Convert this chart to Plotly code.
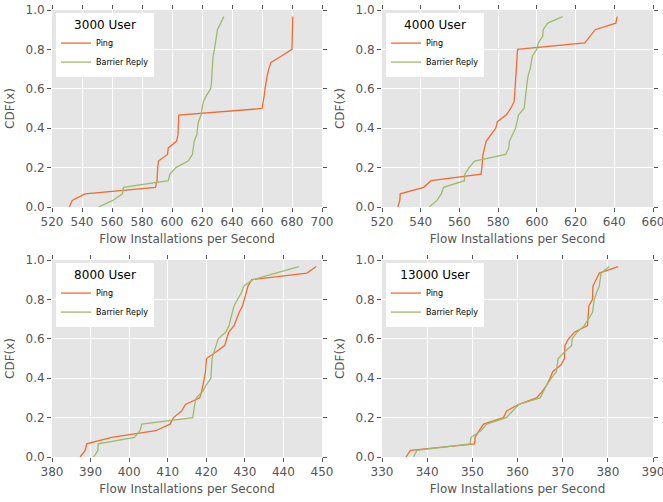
import plotly.graph_objects as go

N = 30
cdf_y = [i / N for i in range(N)]

ping_3000 = [531.5, 533.5, 542, 589, 590, 590, 590.5, 591, 597, 597.5,
             603, 604, 604, 604.3, 604.5, 660, 661, 661.5, 662, 662.5,
             663.5, 664.5, 666, 673, 680, 680.1, 680.2, 680.3, 680.4, 680.5]
barrier_3000 = [551, 560.5, 567, 567.6, 597.5, 598.6, 602.6, 610.8, 613.6, 614.3,
                614.8, 616.5, 617.2, 617.6, 619.4, 620.2, 620.8, 623, 625.8, 626.3,
                626.6, 627, 627.2, 627.4, 628.3, 629.1, 629.8, 630.3, 632.5, 634.5]

ping_4000 = [528.2, 529.2, 529.4, 541.5, 545.4, 571.2, 571.6, 572, 572.2, 573,
             573.8, 576.2, 578.8, 579.6, 584.1, 586.5, 588.2, 588.5, 588.8, 589,
             589.2, 589.4, 589.6, 589.8, 590, 624.8, 627.5, 630.1, 640.8, 641.5]
barrier_4000 = [544.4, 548.4, 550.6, 551.8, 562.6, 562.8, 565, 567.8, 583.9, 585.5,
                585.8, 587.5, 589, 589.8, 590.5, 593.4, 593.7, 594.2, 594.6, 595,
                595.5, 596.5, 597, 597.7, 599.9, 600.8, 603, 603.3, 605.6, 613.3]

ping_8000 = [387.3, 388.6, 389, 395.5, 406.9, 410.6, 411.5, 413.6, 414.6, 418.3,
             418.8, 419.2, 419.5, 419.8, 420, 420.05, 422.5, 424.8, 425.3, 425.8,
             427.2, 427.8, 428.5, 429.4, 429.8, 430.3, 430.8, 431.8, 446.1, 448.5]
barrier_8000 = [390.8, 391.9, 392, 401.4, 402.8, 403.3, 416.5, 416.7, 417, 417.4,
                419.1, 420, 421.2, 421.3, 421.4, 421.5, 422, 422.6, 423.1, 425,
                425.9, 426.3, 426.7, 427.2, 428.1, 429.1, 429.7, 432.1, 438, 444]

ping_13000 = [335.3, 336.3, 350.5, 350.6, 351.5, 352.5, 356.9, 357.6, 360.2, 364.2,
              365.5, 366.5, 367.2, 367.8, 369.6, 370.4, 370.45, 370.5, 371.3, 372.6,
              375.5, 375.6, 375.7, 375.8, 376.6, 376.6, 376.7, 377.4, 378.1, 382.3]
barrier_13000 = [337, 337.7, 349.5, 349.7, 351.9, 353.2, 357.5, 358.9, 360.3, 365,
                 365.8, 366.5, 367.5, 368.6, 368.8, 369, 370.4, 372, 372.1, 373.2,
                 374.8, 375.8, 376.6, 376.8, 377, 377.5, 378.1, 378.3, 378.5, 380.3]

panel_titles = ["3000 User", "4000 User", "8000 User", "13000 User"]
panel_ping = [ping_3000, ping_4000, ping_8000, ping_13000]
panel_barrier = [barrier_3000, barrier_4000, barrier_8000, barrier_13000]
x_ranges = [[520, 700], [520, 660], [380, 450], [330, 390]]
x_dticks = [20, 20, 10, 10]
y_ticks = [0.0, 0.2, 0.4, 0.6, 0.8, 1.0]

ORANGE = "#F26B30"
GREEN = "#9DBB6E"
TICKC = "#555555"
FONT = "DejaVu Sans"

W, H = 663, 502
# page-pixel boxes for each panel (x0, x1, y0, y1)
boxes = [(52, 322, 10, 207), (382, 653, 10, 207),
         (52, 322, 260, 457), (382, 653, 260, 457)]
L = boxes[0][0]
R = W - boxes[1][1]
T = boxes[0][2]
B = H - boxes[2][3]
pw = W - L - R
ph = H - T - B

def xd(px0, px1):
    return [(px0 - L) / pw, (px1 - L) / pw]

def yd(py0, py1):
    return [(H - B - py1) / ph, (H - B - py0) / ph]

fig = go.Figure()
for k in range(4):
    ax = "" if k == 0 else str(k + 1)
    lg = "legend" if k == 0 else "legend" + str(k + 1)
    fig.add_trace(go.Scatter(x=panel_ping[k], y=cdf_y, mode="lines", name="Ping",
                             line=dict(color=ORANGE, width=1.3),
                             xaxis="x" + ax, yaxis="y" + ax, legend=lg))
    fig.add_trace(go.Scatter(x=panel_barrier[k], y=cdf_y, mode="lines", name="Barrier Reply",
                             line=dict(color=GREEN, width=1.3),
                             xaxis="x" + ax, yaxis="y" + ax, legend=lg))
    px0, px1, py0, py1 = boxes[k]
    axis_common = dict(showgrid=True, gridcolor="white", gridwidth=1, zeroline=False,
                       ticks="outside", ticklen=4, tickcolor=TICKC, mirror="allticks",
                       showline=False, automargin=False, ticklabeloverflow="allow",
                       tickfont=dict(family=FONT, size=12, color=TICKC))
    fig.update_layout(**{
        "xaxis" + ax: dict(domain=xd(px0, px1), range=x_ranges[k], dtick=x_dticks[k],
                           anchor="y" + ax,
                           title=dict(text="Flow Installations per Second",
                                      font=dict(family=FONT, size=12, color=TICKC), standoff=6),
                           **axis_common),
        "yaxis" + ax: dict(domain=yd(py0, py1), range=[0, 1], tickvals=y_ticks,
                           ticktext=["%.1f" % v for v in y_ticks], anchor="x" + ax,
                           title=dict(text="CDF(x)", font=dict(family=FONT, size=12, color=TICKC), standoff=8),
                           **axis_common),
        lg: dict(x=(px0 + 4 - L) / pw, y=(H - B - (py0 + 3)) / ph, xanchor="left", yanchor="top",
                 bgcolor="white", borderwidth=0,
                 title=dict(text=panel_titles[k], side="top center",
                            font=dict(family=FONT, size=12, color="black")),
                 font=dict(family=FONT, size=8, color="black"),
                 tracegroupgap=0, itemwidth=30),
    })

fig.update_layout(width=W, height=H, margin=dict(l=L, r=R, t=T, b=B, autoexpand=False),
                  paper_bgcolor="white", plot_bgcolor="#E5E5E5",
                  font=dict(family=FONT, color=TICKC), showlegend=True)

fig.write_html("out.html", config={"displayModeBar": False},
               post_script="document.body.style.margin='0';document.body.style.overflow='hidden';")
